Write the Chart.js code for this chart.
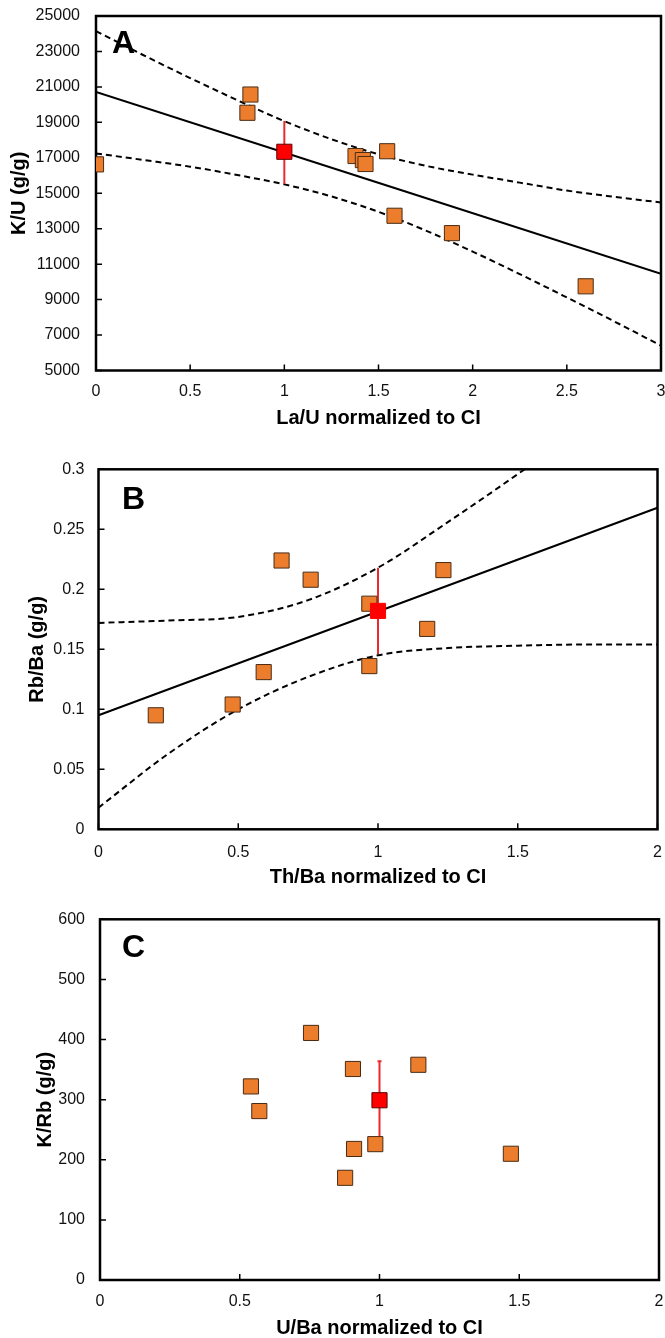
<!DOCTYPE html>
<html>
<head>
<meta charset="utf-8">
<script src="https://cdn.jsdelivr.net/npm/chart.js@4.4.1/dist/chart.umd.min.js"></script>
<style>
  html, body { margin: 0; padding: 0; background: #fff; overflow: hidden; }
  .panel { position: absolute; left: 0; width: 665px; }
</style>
</head>
<body>
<div class="panel" id="boxA"><canvas id="chartA"></canvas></div>
<div class="panel" id="boxB"><canvas id="chartB"></canvas></div>
<div class="panel" id="boxC"><canvas id="chartC"></canvas></div>
<script>
// ---- panel A: K/U vs La/U ----
const laU = [0, 0.804, 0.82, 1.378, 1.417, 1.431, 1.546, 1.585, 1.89, 2.6];
const kU = [16630, 19540, 20570, 17100, 16870, 16650, 17370, 13730, 12750, 9750];
const ciA = { x: 1, y: 17340, lo: 15520, hi: 19070 };
const fitAx = [0, 3];
const fitAy = [20720, 10450];
const bandAx = [0, 0.25, 0.5, 0.75, 1, 1.25, 1.5, 1.75, 2, 2.25, 2.5, 2.75, 3];
const bandAup = [24150, 22800, 21500, 20250, 19070, 18050, 17200, 16550, 16050, 15600, 15150, 14800, 14480];
const bandAlo = [17250, 16880, 16500, 16030, 15500, 14820, 13950, 12900, 11710, 10440, 9120, 7780, 6400];

// ---- panel B: Rb/Ba vs Th/Ba ----
const thBa = [0.205, 0.48, 0.591, 0.655, 0.759, 0.969, 0.969, 1.176, 1.234];
const rbBa = [0.095, 0.104, 0.131, 0.224, 0.208, 0.188, 0.136, 0.167, 0.216];
const ciB = { x: 1, y: 0.182, lo: 0.146, hi: 0.218 };
const fitBx = [0, 2];
const fitBy = [0.095, 0.268];
const bandBx = [0, 0.25, 0.5, 0.75, 1, 1.25, 1.5, 1.75, 2];
const bandBup = [0.172, 0.174, 0.177, 0.191, 0.218, 0.256, 0.296, 0.338, 0.38];
const bandBlo = [0.018, 0.063, 0.1, 0.127, 0.145, 0.151, 0.153, 0.154, 0.154];

// ---- panel C: K/Rb vs U/Ba ----
const uBa = [0.755, 0.54, 0.57, 0.905, 1.139, 0.985, 0.909, 0.877, 1.47];
const kRb = [411, 322, 281, 351, 358, 226, 218, 170, 210];
const ciC = { x: 1, y: 299, lo: 236, hi: 364 };

const FONT = "'Liberation Sans', Arial, Helvetica, sans-serif";
const ORANGE = '#eb7d2c';
const ORANGE_EDGE = '#4a2c14';
const RED = '#ff0000';
const ERR = '#ec2a2e';

function pairs(xs, ys) {
    return xs.map((x, i) => ({ x: x, y: ys[i] }));
}

// frame, inward ticks and the panel letter
const framePlugin = {
    id: 'frame',
    beforeDatasetsDraw(chart, args, opts) {
        const { ctx, chartArea: a, scales } = chart;
        ctx.save();
        ctx.strokeStyle = '#000';
        ctx.lineWidth = 1.5;
        ctx.beginPath();
        scales.x.ticks.forEach(t => {
            const p = scales.x.getPixelForValue(t.value);
            ctx.moveTo(p, a.bottom);
            ctx.lineTo(p, a.bottom - 6);
        });
        scales.y.ticks.forEach(t => {
            const p = scales.y.getPixelForValue(t.value);
            ctx.moveTo(a.left, p);
            ctx.lineTo(a.left + 6, p);
        });
        ctx.stroke();
        ctx.lineWidth = 2.5;
        ctx.strokeRect(a.left, a.top, a.right - a.left, a.bottom - a.top);
        ctx.fillStyle = '#000';
        ctx.font = 'bold 32px ' + FONT;
        ctx.textAlign = 'left';
        ctx.textBaseline = 'middle';
        ctx.fillText(opts.letter, opts.lx, opts.ly);
        ctx.restore();
    }
};

function fmt(v) {
    return String(Math.round(v * 1000) / 1000);
}

// stop Chart.js from shrinking the plot to make room for edge labels
function noPad(s) {
    s.paddingTop = 0;
    s.paddingBottom = 0;
    s.paddingLeft = 0;
    s.paddingRight = 0;
}

function makeChart(id, box, p) {
    const holder = document.getElementById(box);
    holder.style.top = p.top + 'px';
    holder.style.height = p.height + 'px';

    const datasets = [
        {
            data: [{ x: p.ci.x, y: p.ci.y }],
            pointStyle: 'rect',
            pointRadius: 10.7,
            backgroundColor: RED,
            borderColor: p.redEdge,
            borderWidth: 1,
        },
        {
            data: pairs(p.xs, p.ys),
            pointStyle: 'rect',
            pointRadius: 10.7,
            backgroundColor: ORANGE,
            borderColor: ORANGE_EDGE,
            borderWidth: 1,
        },
        {
            data: [{ x: p.ci.x, y: p.ci.lo }, { x: p.ci.x, y: p.ci.hi }],
            showLine: true,
            borderColor: ERR,
            borderWidth: 2,
            pointStyle: 'line',
            pointRadius: p.capSize,
            pointBorderColor: ERR,
            pointBorderWidth: 2,
        },
    ];
    (p.lines || []).forEach(l => {
        datasets.push({
            data: pairs(l.x, l.y),
            showLine: true,
            borderColor: '#000',
            borderWidth: 2,
            borderDash: l.dash ? [6, 4] : [],
            cubicInterpolationMode: 'monotone',
            pointRadius: 0,
        });
    });

    return new Chart(document.getElementById(id), {
        type: 'scatter',
        data: { datasets: datasets },
        options: {
            responsive: true,
            maintainAspectRatio: false,
            animation: false,
            events: [],
            layout: {
                autoPadding: false,
                padding: { left: 0, top: p.plotTop - p.top, right: 665 - p.right, bottom: 0 },
            },
            plugins: {
                legend: { display: false },
                tooltip: { enabled: false },
                frame: { letter: p.letter, lx: p.letterX, ly: p.letterY - p.top },
            },
            scales: {
                x: {
                    type: 'linear',
                    min: p.xMin,
                    max: p.xMax,
                    grid: { display: false, drawTicks: false },
                    border: { display: false },
                    ticks: {
                        stepSize: p.xStep,
                        padding: p.xTickGap,
                        color: '#111',
                        font: { family: FONT, size: 16 },
                        callback: fmt,
                    },
                    title: {
                        display: true,
                        text: p.xTitle,
                        color: '#000',
                        font: { family: FONT, size: 20, weight: 'bold', lineHeight: 1 },
                        padding: { top: 0, bottom: p.height - 10 - (p.xTitleY - p.top) },
                    },
                    afterFit: s => {
                        s.height = p.height - (p.plotBottom - p.top);
                        noPad(s);
                    },
                },
                y: {
                    type: 'linear',
                    min: p.yMin,
                    max: p.yMax,
                    grid: { display: false, drawTicks: false },
                    border: { display: false },
                    ticks: {
                        stepSize: p.yStep,
                        padding: p.yTickGap,
                        color: '#111',
                        font: { family: FONT, size: 16 },
                        callback: fmt,
                    },
                    title: {
                        display: true,
                        text: p.yTitle,
                        color: '#000',
                        font: { family: FONT, size: 20, weight: 'bold', lineHeight: 1 },
                        padding: { top: p.yTitleX - 10, bottom: 0 },
                    },
                    afterFit: s => {
                        s.width = p.left;
                        noPad(s);
                    },
                },
            },
        },
        plugins: [framePlugin],
    });
}

makeChart('chartA', 'boxA', {
    top: 0, height: 440, left: 96, right: 661, plotTop: 16, plotBottom: 370.5,
    xTickGap: 11, xTitleY: 418, yTickGap: 16, yTitleX: 19,
    letter: 'A', letterX: 112, letterY: 44,
    xMin: 0, xMax: 3, xStep: 0.5, yMin: 5000, yMax: 25000, yStep: 2000,
    xTitle: 'La/U normalized to CI', yTitle: 'K/U (g/g)',
    xs: laU, ys: kU, ci: ciA, redEdge: '#5a0000', capSize: 0,
    lines: [
        { x: fitAx, y: fitAy, dash: false },
        { x: bandAx, y: bandAup, dash: true },
        { x: bandAx, y: bandAlo, dash: true },
    ],
});

makeChart('chartB', 'boxB', {
    top: 440, height: 450, left: 98.5, right: 657.5, plotTop: 469.3, plotBottom: 829.3,
    xTickGap: 14, xTitleY: 877, yTickGap: 14, yTitleX: 37,
    letter: 'B', letterX: 122, letterY: 500,
    xMin: 0, xMax: 2, xStep: 0.5, yMin: 0, yMax: 0.3, yStep: 0.05,
    xTitle: 'Th/Ba normalized to CI', yTitle: 'Rb/Ba (g/g)',
    xs: thBa, ys: rbBa, ci: ciB, redEdge: RED, capSize: 0,
    lines: [
        { x: fitBx, y: fitBy, dash: false },
        { x: bandBx, y: bandBup, dash: true },
        { x: bandBx, y: bandBlo, dash: true },
    ],
});

makeChart('chartC', 'boxC', {
    top: 888, height: 450, left: 100, right: 659, plotTop: 919.3, plotBottom: 1280,
    xTickGap: 12, xTitleY: 1328, yTickGap: 15, yTitleX: 45,
    letter: 'C', letterX: 122, letterY: 948,
    xMin: 0, xMax: 2, xStep: 0.5, yMin: 0, yMax: 600, yStep: 100,
    xTitle: 'U/Ba normalized to CI', yTitle: 'K/Rb (g/g)',
    xs: uBa, ys: kRb, ci: ciC, redEdge: '#5a0000', capSize: 2,
    lines: [],
});
</script>
</body>
</html>
